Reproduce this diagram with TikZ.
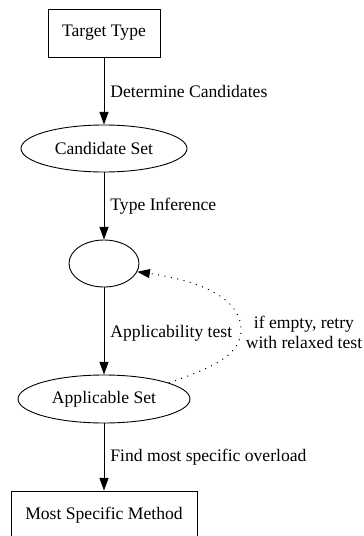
\documentclass[tikz,border=0pt]{standalone}
\usepackage{fontspec}
\setmainfont{Liberation Serif}
\usetikzlibrary{shapes.geometric,arrows.meta}
\begin{document}
\begin{tikzpicture}[x=1pt,y=1pt,
  every node/.style={font=\fontsize{17.6}{20}\selectfont},
  box/.style={draw, line width=0.9pt, rectangle, minimum height=48pt, inner sep=0pt},
  oval/.style={draw, line width=0.9pt, ellipse, minimum height=47pt, inner sep=0pt},
  flow/.style={line width=0.9pt, -{Triangle[length=12.6pt,width=9pt]}},
  retry/.style={line width=1pt, dash pattern=on 1pt off 5.5pt, -{Triangle[length=12.6pt,width=9pt]}},
  lab/.style={anchor=west, inner sep=0pt, xshift=6pt}]
  \useasboundingbox (0,0) rectangle (364,-536);

  % nodes of the resolution pipeline
  \node[box, minimum width=112pt] (target) at (104,-33) {Target Type};
  \node[oval, minimum width=166pt] (cands) at (104,-148.5) {Candidate Set};
  \node[oval, minimum width=70pt] (inferred) at (104,-263.5) {};
  \node[oval, minimum width=172pt, minimum height=48pt] (appl) at (104,-399) {Applicable Set};
  \node[box, minimum width=186pt] (best) at (104,-515) {Most Specific Method};

  % main flow
  \draw[flow] (target) -- node[lab] {Determine Candidates} (cands);
  \draw[flow] (cands) -- node[lab] {Type Inference} (inferred);
  \draw[flow] (inferred) -- node[lab, yshift=-2pt] {Applicability test} (appl);
  \draw[flow] (appl) -- node[lab] {Find most specific overload} (best);

  % retry loop back to inference
  \draw[retry] (appl.14) .. controls (215,-367) and (241,-354) .. (241,-330)
    .. controls (241,-296) and (195,-280) .. (inferred.-14);
  \node[align=center, inner sep=0pt] (retrylab) at (304,-332) {if empty, retry\\with relaxed test};
\end{tikzpicture}
\end{document}
